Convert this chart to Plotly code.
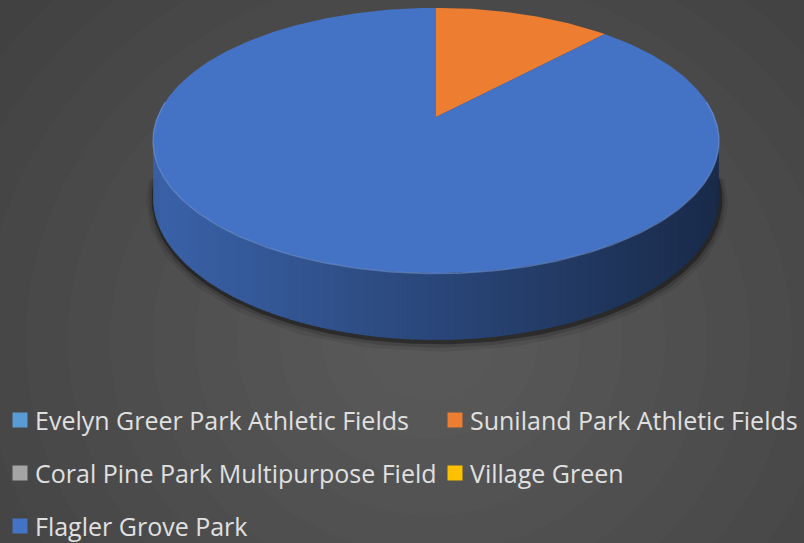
import numpy as np
import plotly.graph_objects as go

# Share of use per site
parks = [
    "Evelyn Greer Park Athletic Fields",
    "Suniland Park Athletic Fields",
    "Coral Pine Park Multipurpose Field",
    "Village Green",
    "Flagler Grove Park",
]
values = [0, 12, 0, 0, 88]
colors = ["#5B9BD5", "#ED7D31", "#A5A5A5", "#FFC000", "#4472C4"]

W, H = 804, 543

# 3-D pie geometry in pixel space (perspective-projected disc)
CX, CY = 436.0, 117.0     # projected pie centre
SX, KY = 278.5, 128.4     # horizontal / vertical radius factors
PERSP = 0.177             # perspective strength
DEPTH = 55.0              # disc thickness


def project(t, drop=0.0):
    u, v = np.sin(t), np.cos(t)
    w = 1.0 + PERSP * v
    return CX + SX * u / w, CY - KY * v / w + drop / w


def shade(hex_color, f):
    h = hex_color.lstrip("#")
    r, g, b = (int(h[i:i + 2], 16) for i in (0, 2, 4))
    return "rgb(%d,%d,%d)" % (r * f, g * f, b * f)


fig = go.Figure()

total = float(sum(values))
bounds = np.concatenate([[0.0], np.cumsum(values) / total * 2 * np.pi])

# soft shadow under the disc
t_lo = np.arccos(-PERSP)
t_hi = 2 * np.pi - t_lo
tt = np.linspace(t_lo - 0.15, t_hi + 0.15, 200)
for width, alpha, off in [(16, 0.08, 4), (10, 0.14, 3), (5, 0.35, 2)]:
    bx, by = project(tt, DEPTH)
    fig.add_trace(go.Scatter(x=bx + 1, y=by + off, mode="lines",
                             line=dict(color="rgba(0,0,0,%.2f)" % alpha, width=width),
                             hoverinfo="skip", showlegend=False))

# side wall, lit from the left
n_seg = 160
edges = np.linspace(t_lo, t_hi, n_seg + 1)
for a0, a1 in zip(edges[:-1], edges[1:]):
    mid = 0.5 * (a0 + a1)
    idx = int(np.searchsorted(bounds, mid % (2 * np.pi), side="right") - 1)
    idx = min(max(idx, 0), len(values) - 1)
    seg = np.linspace(a0 - 0.004, a1 + 0.004, 4)
    x_top, y_top = project(seg)
    x_bot, y_bot = project(seg[::-1], DEPTH)
    xm, _ = project(mid)
    xn = (xm - (CX - SX)) / (2 * SX)
    f = 0.86 - 0.48 * xn
    fig.add_trace(go.Scatter(
        x=np.concatenate([x_top, x_bot]), y=np.concatenate([y_top, y_bot]),
        mode="lines", fill="toself", fillcolor=shade(colors[idx], f),
        line=dict(width=0), hoverinfo="skip", showlegend=False))

# top face slices
for i, v in enumerate(values):
    if v <= 0:
        continue
    arc = np.linspace(bounds[i], bounds[i + 1], max(int(v * 4), 20))
    ax_, ay_ = project(arc)
    fig.add_trace(go.Scatter(
        x=np.concatenate([[CX], ax_, [CX]]), y=np.concatenate([[CY], ay_, [CY]]),
        mode="lines", fill="toself", fillcolor=colors[i],
        line=dict(width=0), name=parks[i], hoverinfo="name", showlegend=False))

# light rim along the front edge of the top face
rx, ry = project(np.linspace(t_lo - 0.3, t_hi + 0.3, 200))
fig.add_trace(go.Scatter(x=rx, y=ry + 0.5, mode="lines",
                         line=dict(color="rgba(120,160,230,0.5)", width=1.5),
                         hoverinfo="skip", showlegend=False))

# legend: two columns, three rows
col_x = [20, 455]
row_y = [420, 473, 526]
lx = [col_x[i % 2] for i in range(len(parks))]
ly = [row_y[i // 2] for i in range(len(parks))]
fig.add_trace(go.Scatter(x=lx, y=ly, mode="markers",
                         marker=dict(symbol="square", size=15, color=colors, line=dict(width=0)),
                         hoverinfo="skip", showlegend=False))
annotations = [
    dict(x=x + 13, y=y, xref="x", yref="y", text=name, showarrow=False,
         xanchor="left", yanchor="middle",
         font=dict(family="'Open Sans', sans-serif", size=25, color="#e0e0e0"))
    for name, x, y in zip(parks, lx, ly)
]

# radial glow in the background
shapes = []
gx, gy = 430, 340
for r in np.linspace(560, 60, 14):
    shapes.append(dict(type="circle", xref="x", yref="y", layer="below",
                       x0=gx - r * 1.1, x1=gx + r * 1.1, y0=gy - r, y1=gy + r,
                       fillcolor="rgba(255,255,255,0.011)", line=dict(width=0)))

fig.update_layout(
    width=W, height=H,
    margin=dict(l=0, r=0, t=0, b=0),
    paper_bgcolor="#3d3d3d", plot_bgcolor="rgba(0,0,0,0)",
    xaxis=dict(range=[0, W], visible=False, fixedrange=True),
    yaxis=dict(range=[H, 0], visible=False, fixedrange=True),
    annotations=annotations, shapes=shapes, showlegend=False,
)

fig.write_html("out.html")
